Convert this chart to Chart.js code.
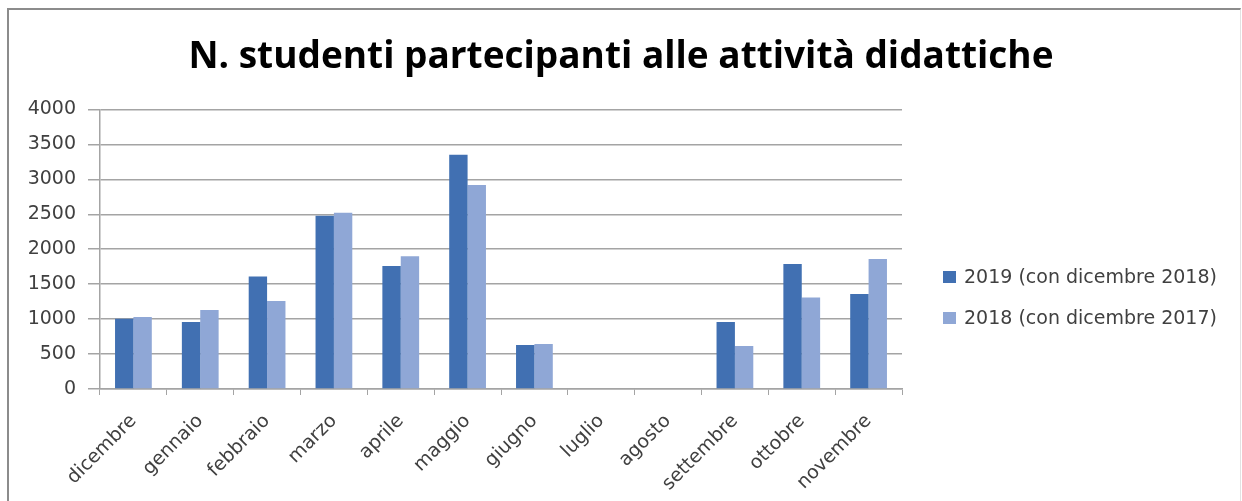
<!DOCTYPE html>
<html>
<head>
<meta charset="utf-8">
<script src="https://cdn.jsdelivr.net/npm/chart.js@4/dist/chart.umd.min.js"></script>
<style>
  html, body { margin: 0; padding: 0; background: #fff; }
  #wrap { position: relative; width: 1242px; height: 501px; overflow: hidden; }
  #frame {
    position: absolute; left: 7px; top: 8px; width: 1231px; height: 520px;
    border-top: 2px solid #8c8c8c; border-left: 2px solid #8c8c8c; border-right: 1px solid #e2e2e2;
    pointer-events: none;
  }
  canvas { position: absolute; left: 0; top: 0; }
</style>
</head>
<body>
<div id="wrap">
  <canvas id="chart" width="1242" height="501"></canvas>
  <div id="frame"></div>
</div>
<script>
// categories (months) and series values
const months = ['dicembre', 'gennaio', 'febbraio', 'marzo', 'aprile', 'maggio', 'giugno', 'luglio', 'agosto', 'settembre', 'ottobre', 'novembre'];
const values2019 = [1005, 960, 1610, 2480, 1760, 3350, 630, 0, 0, 960, 1790, 1360];
const values2018 = [1030, 1130, 1260, 2520, 1900, 2920, 645, 0, 0, 615, 1310, 1860];
const yTicks = [0, 500, 1000, 1500, 2000, 2500, 3000, 3500, 4000];

const gridColor = '#a4a4a4';
const textColor = '#404040';

// legend drawn on the right side, next to the plot (built-in one can't get wide enough here)
const sideLegend = {
  id: 'sideLegend',
  afterDraw(chart, args, opts) {
    const ctx = chart.ctx;
    ctx.save();
    ctx.font = opts.font;
    ctx.textBaseline = 'middle';
    ctx.textAlign = 'left';
    chart.data.datasets.forEach((ds, i) => {
      const y = opts.y + i * opts.spacing;
      ctx.fillStyle = ds.backgroundColor;
      ctx.fillRect(opts.x, y - opts.boxH / 2, opts.boxW, opts.boxH);
      ctx.fillStyle = opts.color;
      ctx.fillText(ds.label, opts.x + opts.boxW + opts.gap, y + 1);
    });
    ctx.restore();
  }
};

const data = {
  labels: months,
  datasets: [{
    label: '2019 (con dicembre 2018)',
    data: values2019,
    backgroundColor: '#4170b2',
    borderWidth: 0,
    categoryPercentage: 0.55,
    barPercentage: 1.0
  },
  {
    label: '2018 (con dicembre 2017)',
    data: values2018,
    backgroundColor: '#8fa7d6',
    borderWidth: 0,
    categoryPercentage: 0.55,
    barPercentage: 1.0
  }]
};

const config = {
  type: 'bar',
  data,
  plugins: [sideLegend],
  options: {
    responsive: false,
    animation: false,
    layout: {
      padding: { left: 0, right: 0, top: 0, bottom: 0 }
    },
    scales: {
      x: {
        afterFit: scale => { scale.height = 112; },
        grid: {
          display: true,
          drawOnChartArea: false,
          drawTicks: true,
          tickLength: 6,
          color: gridColor,
          offset: true
        },
        border: { display: true, color: gridColor, width: 1.5 },
        ticks: {
          autoSkip: false,
          minRotation: 45,
          maxRotation: 45,
          padding: 15,
          color: textColor,
          font: { family: 'DejaVu Sans', size: 19 }
        }
      },
      y: {
        min: 0,
        max: 4000,
        afterBuildTicks: scale => { scale.ticks = yTicks.map(v => ({ value: v })); },
        afterFit: scale => { scale.width = 100; },
        grid: {
          color: gridColor,
          lineWidth: 1.5,
          drawTicks: true,
          tickLength: 12
        },
        border: { display: true, color: gridColor, width: 1.5 },
        ticks: {
          padding: 12,
          color: textColor,
          font: { family: 'DejaVu Sans', size: 19 },
          callback: v => String(v)
        }
      },
      // empty axis on the right, reserves the room where the legend is drawn
      side: {
        position: 'right',
        display: true,
        grid: { display: false },
        border: { display: false },
        ticks: { display: false },
        afterFit: scale => { scale.width = 340; }
      }
    },
    plugins: {
      title: {
        display: true,
        text: 'N. studenti partecipanti alle attività didattiche',
        color: '#000',
        font: { family: 'Open Sans', size: 37, weight: 'bold', lineHeight: 1.2 },
        padding: { top: 35, bottom: 30 }
      },
      legend: { display: false },
      tooltip: { enabled: false },
      sideLegend: {
        x: 943,
        y: 277,
        spacing: 41,
        boxW: 13,
        boxH: 12,
        gap: 8,
        color: textColor,
        font: '19px "DejaVu Sans"'
      }
    }
  }
};

const chart = new Chart(document.getElementById('chart'), config);
</script>
</body>
</html>
